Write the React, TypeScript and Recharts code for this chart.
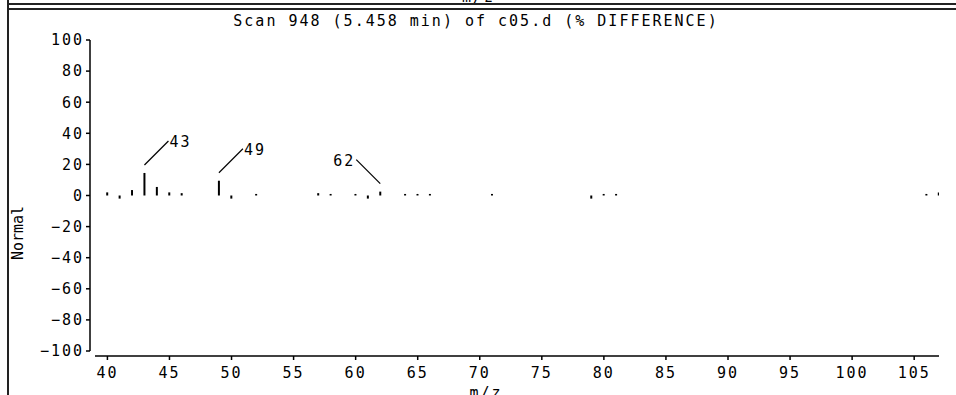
import { ComposedChart, Bar, XAxis, YAxis, LabelList } from 'recharts';

// m/z of every stick and its % difference
const MZ = [40, 41, 42, 43, 44, 45, 46, 49, 50, 52, 57, 58, 60, 61, 62, 64, 65, 66, 71, 79, 80, 81, 106, 107];
const DIFF = [2, -2, 3.5, 14.5, 5.5, 2, 1.5, 9.5, -2, 1, 1.5, 1, 1, -2, 2.5, 1, 1, 1, 1, -2, 1, 1, 1, 2];
const LABELED = [43, 49, 62];

const X_TICKS = [40, 45, 50, 55, 60, 65, 70, 75, 80, 85, 90, 95, 100, 105];
const Y_TICKS = [-100, -80, -60, -40, -20, 0, 20, 40, 60, 80, 100];

const TITLE = 'Scan 948 (5.458 min) of c05.d (% DIFFERENCE)';
const Y_LABEL = 'Normal';
const X_LABEL = 'm/z';

const FONT = '"DejaVu Sans Mono", "Liberation Mono", monospace';
const INK = '#000';
const LEFT_LEADER = new Set([62]);

const rows = MZ.map((mz, i) => ({
  mz,
  diff: DIFF[i],
  label: LABELED.includes(mz) ? String(mz) : '',
}));

function renderPeakLabel(props: any) {
  const { value } = props;
  if (!value) return null;
  const vb = props.viewBox ?? props;
  const x = Number(vb.x);
  const y = Number(vb.y);
  const w = Number(vb.width);
  const h = Number(vb.height);
  const cx = x + w / 2;
  const top = Math.min(y, y + h) - 8;
  const left = LEFT_LEADER.has(Number(value));
  const ex = left ? cx - 24 : cx + 24;
  const ey = top - 24;
  return (
    <g>
      <line x1={cx} y1={top} x2={ex} y2={ey} stroke={INK} strokeWidth={1.2} />
      <text
        x={left ? ex - 1 : ex + 1}
        y={ey + 1}
        textAnchor={left ? 'end' : 'start'}
        dominantBaseline="central"
        fontFamily={FONT}
        fontSize={15}
        letterSpacing={2}
        fill={INK}
      >
        {value}
      </text>
    </g>
  );
}

const fmtY = (v: number) => (v < 0 ? `\u2212${Math.abs(v)}` : String(v));

export default function App() {
  return (
    <div style={{ position: 'relative', width: 956, height: 395, overflow: 'hidden', background: '#fff' }}>
      <style>{'body{margin:0}'}</style>

      {/* panel frame */}
      <div style={{ position: 'absolute', left: 7, top: 0, width: 2, height: 395, background: '#222' }} />
      <div style={{ position: 'absolute', left: 7, top: 3, width: 949, height: 1.5, background: '#222' }} />
      <div style={{ position: 'absolute', left: 7, top: 8, width: 949, height: 2, background: '#222' }} />
      <div
        style={{
          position: 'absolute', left: 462, top: -10, fontFamily: FONT, fontSize: 15,
          lineHeight: '15px', letterSpacing: 2, color: INK,
        }}
      >
        {X_LABEL}
      </div>

      <div
        style={{
          position: 'absolute', left: 0, top: 14, width: 952, textAlign: 'center', fontFamily: FONT,
          fontSize: 15, lineHeight: '15px', letterSpacing: 2, color: INK, whiteSpace: 'pre',
        }}
      >
        {TITLE}
      </div>

      <ComposedChart width={956} height={395} data={rows} margin={{ top: 40, right: 17, bottom: 0, left: 0 }}>
        <XAxis
          type="number"
          dataKey="mz"
          domain={[39, 107]}
          allowDataOverflow
          ticks={X_TICKS}
          interval={0}
          height={44}
          tickSize={4}
          tickMargin={12}
          axisLine={{ stroke: INK, strokeWidth: 1.5, transform: 'translate(0 5)' }}
          tickLine={{ stroke: INK, strokeWidth: 1.5, transform: 'translate(0 5)' }}
          tick={{ fill: INK, fontSize: 15, fontFamily: FONT, letterSpacing: 2 }}
          label={{
            content: () => (
              <text x={486} y={398} textAnchor="middle" fontFamily={FONT} fontSize={15} letterSpacing={2} fill={INK}>
                {X_LABEL}
              </text>
            ),
          }}
        />
        <YAxis
          type="number"
          domain={[-100, 100]}
          ticks={Y_TICKS}
          interval={0}
          width={95}
          tickSize={4}
          tickMargin={7}
          tickFormatter={fmtY}
          axisLine={{ stroke: INK, strokeWidth: 1.5, transform: 'translate(-5 0)' }}
          tickLine={{ stroke: INK, strokeWidth: 1.5, transform: 'translate(-5 0)' }}
          tick={{ fill: INK, fontSize: 15, fontFamily: FONT, letterSpacing: 2 }}
          label={{
            content: () => (
              <text
                x={18}
                y={233}
                transform="rotate(-90 18 233)"
                textAnchor="middle"
                dominantBaseline="central"
                fontFamily={FONT}
                fontSize={15}
                letterSpacing={0}
                fill={INK}
              >
                {Y_LABEL}
              </text>
            ),
          }}
        />
        <Bar dataKey="diff" fill={INK} barSize={2} isAnimationActive={false}>
          <LabelList dataKey="label" content={renderPeakLabel} />
        </Bar>
      </ComposedChart>
    </div>
  );
}
